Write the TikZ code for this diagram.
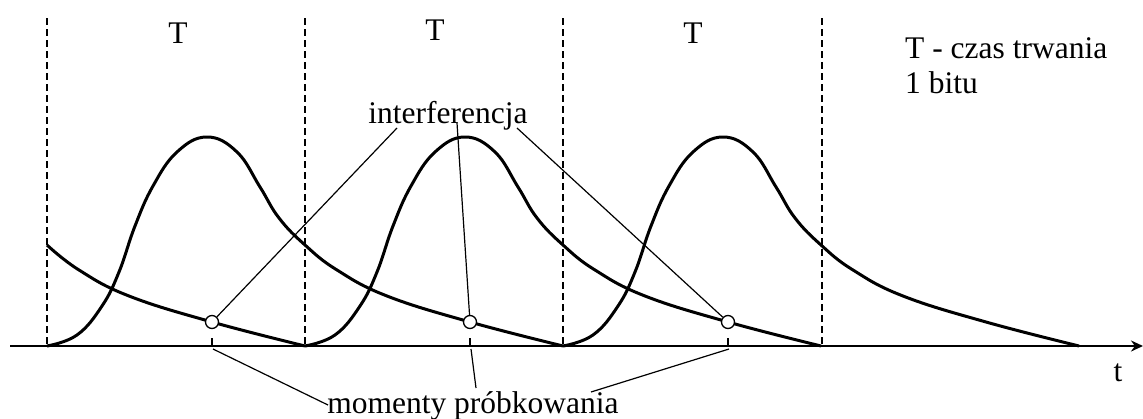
\documentclass[tikz,border=0pt]{standalone}
\usepackage{fontspec}
\setmainfont{Liberation Serif}
\usetikzlibrary{arrows.meta, calc}
\tikzset{
  signal/.style={line width=3pt, line join=round},
  axisline/.style={line width=2.6pt, -{Stealth[length=12pt, width=11pt]}},
  bitline/.style={line width=2pt, dash pattern=on 7pt off 4pt},
  leader/.style={line width=1.2pt},
  tickmark/.style={line width=1.2pt},
  probe/.style={circle, draw, line width=1.3pt, fill=white,
    minimum size=13pt, inner sep=0pt},
  lbl/.style={font=\fontsize{31.5}{36}\selectfont, inner sep=0pt, anchor=base}
}

\begin{document}
\begin{tikzpicture}[x=1pt, y=-1pt]
  \useasboundingbox (0,0) rectangle (1143,418);

  % Bit boundaries
  \draw[bitline] (47,18) -- (47,346);
  \draw[bitline] (305,18) -- (305,346);
  \draw[bitline] (563,18) -- (563,346);
  \draw[bitline] (822,18) -- (822,346);

  % Bit labels
  \node[lbl] (bitA) at (178,43) {T};
  \node[lbl] (bitB) at (435,40) {T};
  \node[lbl] (bitC) at (693,43) {T};
  \node[lbl, anchor=base west] (legend1) at (905,58) {T - czas trwania};
  \node[lbl, anchor=base west] (legend2) at (905,93) {1 bitu};

  % Tail of the previous pulse
  \draw[signal, xshift=-211pt] plot[smooth, tension=0.7] coordinates {
    (258,245) (290,270) (340,296) (423,322) (516,346)};

  % Pulses
  \foreach \s in {47,305,563} {
    \draw[signal, xshift=\s pt] plot[smooth, tension=0.7] coordinates {
      (0,346) (30,335) (55,306) (72,272) (88,226) (106,186) (130,152)
      (160,137) (190,152) (213,187) (232,218) (258,245) (290,270)
      (340,296) (423,322) (516,346)};
  }

  % Time axis
  \draw[axisline] (10,346) -- (1143,346);
  \node[lbl] (tlabel) at (1118,381) {t};

  % Sampling ticks
  \draw[tickmark] (212,338) -- (212,346);
  \draw[tickmark] (470,338) -- (470,346);
  \draw[tickmark] (728,338) -- (728,346);

  % Sampling points
  \node[probe] (smp1) at (212,322) {};
  \node[probe] (smp2) at (470,322) {};
  \node[probe] (smp3) at (728,322) {};

  % Labels
  \node[lbl] (interf) at (448,123) {interferencja};
  \node[lbl] (moments) at (473,413) {momenty próbkowania};

  \coordinate (ia) at (397,128);
  \coordinate (ib) at (457,123);
  \coordinate (ic) at (517,128);
  \coordinate (ta) at (213,349);
  \coordinate (tb) at (471,349);
  \coordinate (tc) at (729,349);
  \coordinate (ma) at (328,405);
  \coordinate (mb) at (476,388);
  \coordinate (mc) at (591,392);

  \draw[leader] (ia) -- (smp1);
  \draw[leader] (ib) -- (smp2);
  \draw[leader] (ic) -- (smp3);
  \draw[leader] (ta) -- (ma);
  \draw[leader] (tb) -- (mb);
  \draw[leader] (tc) -- (mc);
\end{tikzpicture}
\end{document}
